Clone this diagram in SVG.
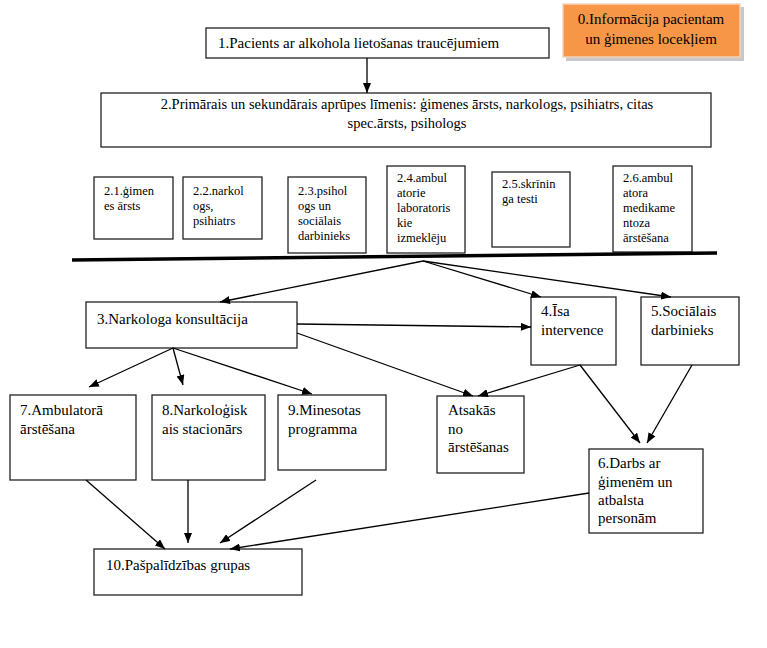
<svg xmlns="http://www.w3.org/2000/svg" width="767" height="648" viewBox="0 0 767 648">
<defs>
<marker id="ah" viewBox="0 0 10 8" refX="10" refY="4" markerWidth="10" markerHeight="8" markerUnits="userSpaceOnUse" orient="auto">
<path d="M0,0 L10,4 L0,8 z" fill="#000"/>
</marker>
</defs>
<rect width="767" height="648" fill="#fff"/>

<g id="n0" font-family="Liberation Serif" font-size="15">
<rect x="566" y="7" width="178" height="54" fill="#c8c8c8"/>
<rect x="563" y="4" width="177" height="53" fill="#F79646" stroke="#f2d4bb" stroke-width="1.5"/>
<text x="651" y="24" text-anchor="middle">0.Informācija pacientam</text>
<text x="651" y="44" text-anchor="middle">un ģimenes locekļiem</text>
</g>

<g id="nodes" fill="#fff" stroke="#222" stroke-width="1.3">
<g id="n1">
<rect x="206" y="28" width="343" height="30"/>
<text x="218" y="48" font-family="Liberation Serif" font-size="15" fill="#000" stroke="none">1.Pacients ar alkohola lietošanas traucējumiem</text>
</g>

<g id="n2">
<rect x="101" y="93" width="610" height="54"/>
<g font-family="Liberation Serif" font-size="14.5" fill="#000" stroke="none" text-anchor="middle">
<text x="407" y="109">2.Primārais un sekundārais aprūpes līmenis: ģimenes ārsts, narkologs, psihiatrs, citas</text>
<text x="407" y="128">spec.ārsts, psihologs</text>
</g>
</g>

<g id="n2_1">
<rect x="94" y="177" width="79" height="62"/>
<g font-family="Liberation Serif" font-size="12.5" fill="#000" stroke="none">
<text x="104" y="195">2.1.ģimen</text>
<text x="104" y="210">es ārsts</text>
</g>
</g>
<g id="n2_2">
<rect x="183" y="177" width="79" height="62"/>
<g font-family="Liberation Serif" font-size="12.5" fill="#000" stroke="none">
<text x="193" y="195">2.2.narkol</text>
<text x="193" y="210">ogs,</text>
<text x="193" y="225">psihiatrs</text>
</g>
</g>
<g id="n2_3">
<rect x="288" y="177" width="78" height="76"/>
<g font-family="Liberation Serif" font-size="12.5" fill="#000" stroke="none">
<text x="298" y="195">2.3.psihol</text>
<text x="298" y="210">ogs un</text>
<text x="298" y="225">sociālais</text>
<text x="298" y="240">darbinieks</text>
</g>
</g>
<g id="n2_4">
<rect x="387" y="166" width="78" height="87"/>
<g font-family="Liberation Serif" font-size="12.5" fill="#000" stroke="none">
<text x="397" y="182">2.4.ambul</text>
<text x="397" y="197">atorie</text>
<text x="397" y="212">laboratoris</text>
<text x="397" y="227">kie</text>
<text x="397" y="242">izmeklēju</text>
</g>
</g>
<g id="n2_5">
<rect x="492" y="172" width="78" height="75"/>
<g font-family="Liberation Serif" font-size="12.5" fill="#000" stroke="none">
<text x="502" y="188">2.5.skrīnin</text>
<text x="502" y="203">ga testi</text>
</g>
</g>
<g id="n2_6">
<rect x="613" y="166" width="79" height="86"/>
<g font-family="Liberation Serif" font-size="12.5" fill="#000" stroke="none">
<text x="623" y="182">2.6.ambul</text>
<text x="623" y="197">atora</text>
<text x="623" y="212">medikame</text>
<text x="623" y="227">ntoza</text>
<text x="623" y="242">ārstēšana</text>
</g>
</g>

<g id="n3">
<rect x="86" y="302" width="211" height="46"/>
<text x="97" y="324" font-family="Liberation Serif" font-size="15" fill="#000" stroke="none">3.Narkologa konsultācija</text>
</g>
<g id="n4">
<rect x="531" y="297" width="85" height="68"/>
<g font-family="Liberation Serif" font-size="15" fill="#000" stroke="none">
<text x="541" y="316">4.Īsa</text>
<text x="541" y="335">intervence</text>
</g>
</g>
<g id="n5">
<rect x="641" y="297" width="98" height="68"/>
<g font-family="Liberation Serif" font-size="15" fill="#000" stroke="none">
<text x="651" y="316">5.Sociālais</text>
<text x="651" y="335">darbinieks</text>
</g>
</g>
<g id="n7">
<rect x="10" y="395" width="126" height="85"/>
<g font-family="Liberation Serif" font-size="15" fill="#000" stroke="none">
<text x="20" y="415">7.Ambulatorā</text>
<text x="20" y="434">ārstēšana</text>
</g>
</g>
<g id="n8">
<rect x="152" y="395" width="113" height="85"/>
<g font-family="Liberation Serif" font-size="15" fill="#000" stroke="none">
<text x="162" y="415">8.Narkoloģisk</text>
<text x="162" y="434">ais stacionārs</text>
</g>
</g>
<g id="n9">
<rect x="278" y="395" width="108" height="75"/>
<g font-family="Liberation Serif" font-size="15" fill="#000" stroke="none">
<text x="288" y="415">9.Minesotas</text>
<text x="288" y="434">programma</text>
</g>
</g>
<g id="nAtsakas">
<rect x="437" y="396" width="87" height="77"/>
<g font-family="Liberation Serif" font-size="15" fill="#000" stroke="none">
<text x="448" y="415">Atsakās</text>
<text x="448" y="434">no</text>
<text x="448" y="452">ārstēšanas</text>
</g>
</g>
<g id="n6">
<rect x="589" y="449" width="114" height="84"/>
<g font-family="Liberation Serif" font-size="15" fill="#000" stroke="none">
<text x="598" y="468">6.Darbs ar</text>
<text x="598" y="487">ģimenēm un</text>
<text x="598" y="505">atbalsta</text>
<text x="598" y="523">personām</text>
</g>
</g>
<g id="n10">
<rect x="94" y="549" width="208" height="46"/>
<text x="106" y="570" font-family="Liberation Serif" font-size="15" fill="#000" stroke="none">10.Pašpalīdzības grupas</text>
</g>
</g>

<g id="divider">
<line x1="72" y1="260" x2="717" y2="253" stroke="#000" stroke-width="3.5"/>
</g>

<g id="connectors" stroke="#000" stroke-width="1.3" fill="none" marker-end="url(#ah)">
<line x1="367" y1="58" x2="367" y2="93"/>
<line x1="423" y1="261" x2="220" y2="302"/>
<line x1="423" y1="261" x2="541" y2="297"/>
<line x1="423" y1="261" x2="671" y2="297"/>
<line x1="297" y1="324" x2="531" y2="327"/>
<line x1="297" y1="333" x2="473" y2="396"/>
<line x1="580" y1="365" x2="478" y2="396"/>
<line x1="580" y1="365" x2="640" y2="443"/>
<line x1="692" y1="365" x2="647" y2="443"/>
<line x1="173" y1="348" x2="89" y2="387"/>
<line x1="173" y1="348" x2="183" y2="385"/>
<line x1="173" y1="348" x2="312" y2="394"/>
<line x1="86" y1="480" x2="165" y2="549"/>
<line x1="188" y1="480" x2="188" y2="543"/>
<line x1="316" y1="480" x2="220" y2="543"/>
<line x1="589" y1="493" x2="230" y2="549"/>
</g>
</svg>
